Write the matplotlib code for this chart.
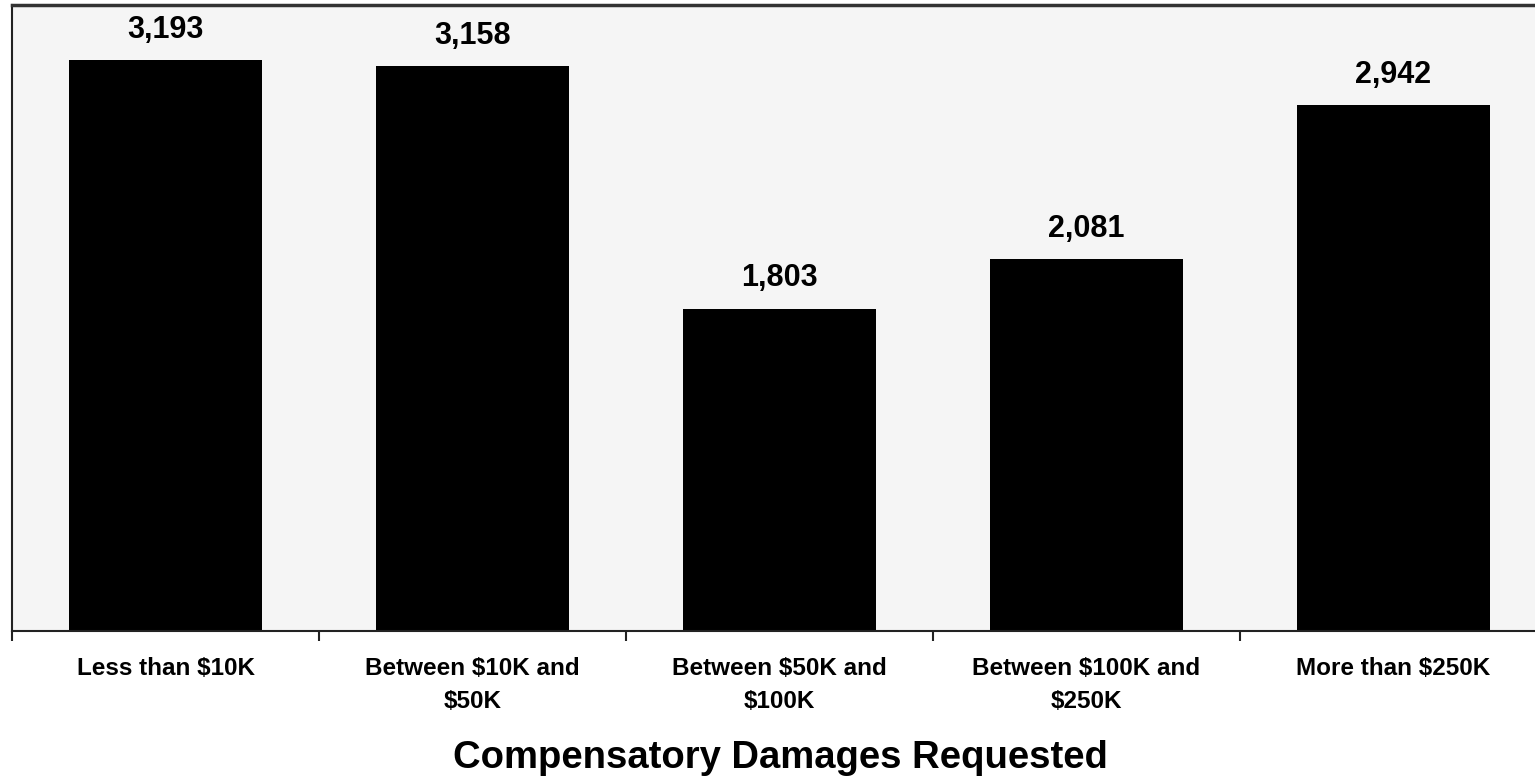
import numpy as np
import matplotlib
matplotlib.use('Agg')
import matplotlib.pyplot as plt

categories = ['Less than $10K', 'Between $10K and\n$50K', 'Between $50K and\n$100K',
              'Between $100K and\n$250K', 'More than $250K']
values = [3193, 3158, 1803, 2081, 2942]

plt.rcParams['font.family'] = ['Liberation Sans', 'DejaVu Sans']

W, H = 1535, 779
fig = plt.figure(figsize=(W/100, H/100), dpi=100, facecolor='white')
# plot area runs a bit past the right edge, as in the scan
ax = fig.add_axes([12/W, (H-631)/H, (1547-12)/W, (631-5)/H])
ax.set_facecolor('#f5f5f5')

x = np.arange(len(categories))
ax.bar(x, values, width=0.63, color='black', zorder=2)
for xi, v in zip(x, values):
    ax.annotate(f'{v:,}', (xi, v), xytext=(0, 16), textcoords='offset points',
                ha='center', va='baseline', fontsize=22, fontweight='bold')

ax.set_xlim(-0.5, len(categories) - 0.5)
ax.set_ylim(0, 3500)
ax.set_yticks([])

ax.set_xticks(x)
ax.set_xticklabels(categories, fontsize=17.5, fontweight='bold', linespacing=1.6)
ax.tick_params(axis='x', which='major', length=0, pad=18.5)
ax.set_xticks(np.arange(-0.5, len(categories) - 0.5), minor=True)
ax.tick_params(axis='x', which='minor', length=7, width=1.5, color='#222222')

for side in ['left', 'bottom']:
    ax.spines[side].set_linewidth(1.5)
    ax.spines[side].set_color('#222222')
ax.spines['top'].set_linewidth(2.5)
ax.spines['top'].set_color('#333333')
ax.spines['right'].set_visible(False)

fig.text(780/W, 1 - 768/H, 'Compensatory Damages Requested', ha='center', va='baseline',
         fontsize=27.5, fontweight='bold')

fig.savefig('out.png', dpi=100, facecolor=fig.get_facecolor())
